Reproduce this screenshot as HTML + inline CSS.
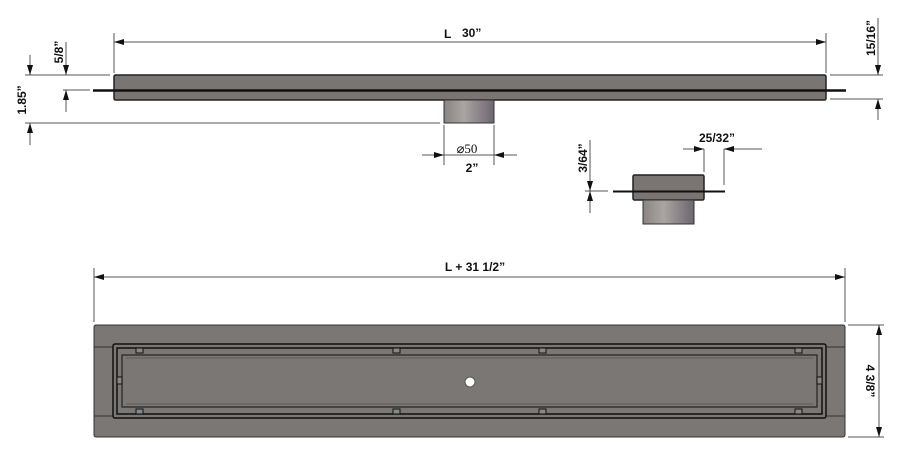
<!DOCTYPE html>
<html><head><style>body{margin:0;background:#fff}svg{display:block}text{font-family:"Liberation Sans",sans-serif;font-weight:bold;font-size:12px;fill:#111}</style></head>
<body>
<svg width="900" height="456" viewBox="0 0 900 456" xmlns="http://www.w3.org/2000/svg">
<defs>
<linearGradient id="pg" x1="0" x2="1" y1="0" y2="0"><stop offset="0" stop-color="#8a8482"/><stop offset="0.4" stop-color="#aaa4a2"/><stop offset="1" stop-color="#6e6670"/></linearGradient>
<marker id="a" viewBox="0 0 10 6" refX="10" refY="3" markerWidth="10" markerHeight="6" orient="auto-start-reverse" markerUnits="userSpaceOnUse"><path d="M0,0L10,3L0,6z" fill="#111"/></marker>
</defs>
<g stroke="#555" stroke-width="1" fill="none">
<!-- top L dim -->
<line x1="114" y1="33" x2="114" y2="73"/><line x1="826" y1="33" x2="826" y2="73"/>
<line x1="114" y1="42" x2="826" y2="42" marker-start="url(#a)" marker-end="url(#a)"/>
<!-- left dims -->
<line x1="25" y1="75" x2="110" y2="75"/><line x1="25" y1="123" x2="440" y2="123"/>
<line x1="30" y1="55" x2="30" y2="75" marker-end="url(#a)"/><line x1="30" y1="145" x2="30" y2="123" marker-end="url(#a)"/>
<line x1="63" y1="90" x2="90" y2="90"/>
<line x1="66" y1="42" x2="66" y2="75" marker-end="url(#a)"/><line x1="66" y1="112" x2="66" y2="90" marker-end="url(#a)"/>
<!-- right dims -->
<line x1="830" y1="75" x2="883" y2="75"/><line x1="830" y1="99" x2="883" y2="99"/>
<line x1="878" y1="18" x2="878" y2="75" marker-end="url(#a)"/><line x1="878" y1="120" x2="878" y2="99" marker-end="url(#a)"/>
<!-- pipe dim -->
<line x1="444" y1="125" x2="444" y2="165"/><line x1="494" y1="125" x2="494" y2="165"/>
<line x1="422" y1="155" x2="444" y2="155" marker-end="url(#a)"/><line x1="517" y1="155" x2="494" y2="155" marker-end="url(#a)"/>
<line x1="444" y1="155" x2="494" y2="155"/>
<!-- small section dims -->
<line x1="704" y1="149" x2="704" y2="172"/><line x1="724" y1="149" x2="724" y2="185"/>
<line x1="683" y1="149" x2="704" y2="149" marker-end="url(#a)"/><line x1="762" y1="149" x2="724" y2="149" marker-end="url(#a)"/>
<line x1="585" y1="191" x2="608" y2="191"/>
<line x1="590" y1="140" x2="590" y2="191" marker-end="url(#a)"/><line x1="590" y1="213" x2="590" y2="191" marker-end="url(#a)"/>
<!-- bottom dims -->
<line x1="94" y1="268" x2="94" y2="322"/><line x1="845" y1="268" x2="845" y2="322"/>
<line x1="94" y1="277" x2="845" y2="277" marker-start="url(#a)" marker-end="url(#a)"/>
<line x1="848" y1="325" x2="884" y2="325"/><line x1="848" y1="437" x2="884" y2="437"/>
<line x1="879" y1="325" x2="879" y2="437" marker-start="url(#a)" marker-end="url(#a)"/>
</g>
<!-- top bar -->
<rect x="114" y="75" width="712" height="25" rx="1.5" fill="#7a7472" stroke="#222" stroke-width="1.5"/>
<line x1="93" y1="90.5" x2="846" y2="90.5" stroke="#111" stroke-width="2.5"/>
<rect x="444" y="100" width="50" height="23" fill="url(#pg)" stroke="#333" stroke-width="1"/>
<!-- small section -->
<rect x="633" y="175" width="71" height="25" rx="1.5" fill="#7a7472" stroke="#222" stroke-width="1.5"/>
<line x1="613" y1="191.5" x2="725" y2="191.5" stroke="#111" stroke-width="2"/>
<rect x="643" y="200" width="51" height="24" fill="url(#pg)" stroke="#333" stroke-width="1"/>
<!-- bottom plan -->
<rect x="94" y="325" width="751" height="112" rx="2" fill="#7b7775" stroke="#333" stroke-width="1"/>
<line x1="94" y1="347" x2="113" y2="347" stroke="#333"/><line x1="94" y1="416" x2="113" y2="416" stroke="#333"/>
<line x1="826" y1="347" x2="845" y2="347" stroke="#333"/><line x1="826" y1="416" x2="845" y2="416" stroke="#333"/>
<rect x="113" y="344" width="713" height="74" rx="2" fill="none" stroke="#111" stroke-width="1.5"/>
<rect x="117" y="348" width="705" height="66" fill="none" stroke="#111" stroke-width="1.5"/>
<rect x="122" y="355" width="695" height="52" fill="none" stroke="#222" stroke-width="1.2"/>
<line x1="126" y1="358" x2="813" y2="358" stroke="#555" stroke-width="0.8"/>
<line x1="126" y1="404" x2="813" y2="404" stroke="#555" stroke-width="0.8"/>
<g fill="#888" stroke="#111" stroke-width="1">
<rect x="136" y="348" width="7" height="5"/><rect x="393" y="348" width="7" height="5"/><rect x="539" y="348" width="7" height="5"/><rect x="795" y="348" width="7" height="5"/>
<rect x="136" y="409" width="7" height="5"/><rect x="393" y="409" width="7" height="5"/><rect x="539" y="409" width="7" height="5"/><rect x="795" y="409" width="7" height="5"/>
<rect x="117" y="377" width="5" height="7"/><rect x="817" y="377" width="5" height="7"/>
</g>
<circle cx="470" cy="382" r="5" fill="#fff" stroke="#555" stroke-width="1"/>
<!-- labels -->
<text x="444" y="38">L</text><text x="462" y="37" font-size="13">30”</text>
<text x="467" y="153" text-anchor="middle" style="font-family:'Liberation Serif',serif;font-weight:normal;font-size:13px">⌀50</text>
<text x="472" y="172" text-anchor="middle">2”</text>
<text x="717" y="142" text-anchor="middle">25/32”</text>
<text x="475" y="271" text-anchor="middle">L +  31 1/2”</text>
<text transform="translate(26,100) rotate(-90)" text-anchor="middle">1.85”</text>
<text transform="translate(63,52) rotate(-90)" text-anchor="middle">5/8”</text>
<text transform="translate(875,38) rotate(-90)" text-anchor="middle">15/16”</text>
<text transform="translate(587,158) rotate(-90)" text-anchor="middle">3/64”</text>
<text transform="translate(866,381) rotate(90)" text-anchor="middle">4 3/8”</text>
</svg>
</body></html>
